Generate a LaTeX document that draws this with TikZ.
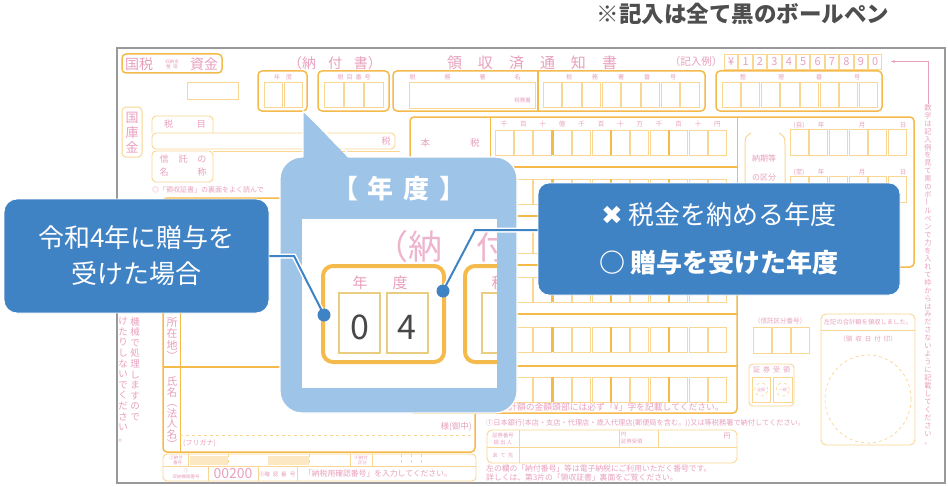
\documentclass[tikz,border=0pt]{standalone}
\usepackage{fontspec}
\setmainfont{Noto Sans CJK JP}
\newfontfamily\dingfont{DejaVu Sans}
\usetikzlibrary{arrows.meta,positioning}

\definecolor{calloutblue}{RGB}{64,131,197}
\definecolor{zoomblue}{RGB}{158,196,231}
\definecolor{formorange}{RGB}{245,186,76}
\definecolor{formcell}{RGB}{249,214,146}
\definecolor{zoomcell}{RGB}{232,205,130}
\definecolor{formpink}{RGB}{233,160,190}
\definecolor{zoompink}{RGB}{238,180,205}
\definecolor{notegray}{RGB}{78,78,78}
\definecolor{digitgray}{RGB}{72,72,72}

\begin{document}
\begin{tikzpicture}
        [
            x=1pt, y=-1pt,
            frame/.style={draw=formorange, line width=1.5pt, rounded corners=4pt},
            cell/.style={draw=formcell, line width=0.9pt},
            formtext/.style={text=formpink, inner sep=0pt, font=\fontsize{#1}{#1}\selectfont},
            formtext/.default=7,
            vstack/.style={text=formpink, inner sep=0pt, align=center, anchor=north},
            callout/.style={fill=calloutblue, draw=white, line width=0.8pt, text=white, align=center, inner sep=0pt},
            link/.style={draw=calloutblue, line width=2pt, preaction={draw=white, line width=5pt}},
            dot/.style={circle, fill=calloutblue, inner sep=0pt, minimum size=13pt},
        ]
            \useasboundingbox (0,0) rectangle (948,487);
            \fill[white] (0,0) rectangle (948,487);
            \draw[black!40, line width=2.6pt] (117,48) rectangle (945,483);

            \node[text=notegray, inner sep=0pt, font=\bfseries\fontsize{22.5}{22.5}\selectfont] (pennote) at (743,14) {※記入は全て黒のボールペン};

            % form: heading row
            \draw[frame] (122,54) rectangle (222,73);
            \node[formtext=14] (kokuzei) at (139,64) {国税};
            \node[formtext, align=center, font=\fontsize{4.5}{5}\selectfont] (shuno) at (172,64) {収納金\\整\ \ 理};
            \node[formtext=14] (shikin) at (204,64) {資金};
            \draw[cell] (187,82) rectangle (238,99);
            \node[formtext=14] (nofusho) at (335,63) {（納\hspace{12pt}付\hspace{12pt}書）};
            \node[formtext=15] (ryoshu) at (532,63) {領\hspace{16pt}収\hspace{16pt}済\hspace{16pt}通\hspace{16pt}知\hspace{16pt}書};
            \node[formtext=10.5] (kinyurei) at (696,62) {（記入例）};
            \foreach \c [count=\i from 0] in {¥,1,2,3,4,5,6,7,8,9,0}
            {
                \draw[cell] (724.5+14.4*\i,54) rectangle ++(13.4,15);
                \node[formtext=11] (ex\i) at (731.2+14.4*\i,61.5) {\c};
            }

            % form: number boxes
            \draw[frame] (258,71) rectangle (307,111);
            \node[formtext=6] (nendo) at (283,77) {年\hspace{6pt}度};
            \foreach \i in {0,1} \draw[cell] (264+20*\i,82) rectangle ++(18,25);
            \draw[frame] (318,71) rectangle (389,111);
            \node[formtext=6] (zeimoku) at (354,77) {税\hspace{3pt}目\hspace{3pt}番\hspace{3pt}号};
            \foreach \i in {0,1,2} \draw[cell] (324.5+20*\i,82) rectangle ++(18.5,25);
            \draw[frame] (393,71) rectangle (705,111);
            \node[formtext=6] (shomei) at (465,77) {税\hspace{29pt}務\hspace{29pt}署\hspace{29pt}名};
            \draw[cell] (409,82) rectangle (535,108);
            \node[formtext=5.5, anchor=east] (shosuffix) at (531,100) {税務署};
            \draw[formorange, line width=1.2pt] (538,71) -- (538,111);
            \node[formtext=6] (shobango) at (621,77) {税\hspace{20pt}務\hspace{20pt}署\hspace{20pt}番\hspace{20pt}号};
            \foreach \i in {0,...,7} \draw[cell] (543+19.7*\i,82) rectangle ++(18.3,25);
            \draw[frame] (716,71) rectangle (882,111);
            \node[formtext=6] (seiri) at (800,77) {整\hspace{32pt}理\hspace{32pt}番\hspace{32pt}号};
            \foreach \i in {0,...,7} \draw[cell] (722+19.6*\i,82) rectangle ++(18.3,25);

            % form: side note
            \node[vstack, font=\fontsize{7.2}{7.95}\selectfont] (sidenote) at (928,104) {数\\字\\は\\記\\入\\例\\を\\見\\て\\黒\\の\\ボ\\\rotatebox{90}{ー}\\ル\\ペ\\ン\\で\\力\\を\\入\\れ\\て\\枠\\か\\ら\\は\\み\\だ\\さ\\な\\い\\よ\\う\\に\\記\\載\\し\\て\\く\\だ\\さ\\い\\。};
            \coordinate (sidebend) at (sidenote.north |- ex10);
            \coordinate (sidetip) at (891,61.5);
            \draw[formpink, line width=0.7pt, -{Stealth[length=4pt]}] (sidenote.north) -- (sidebend) -- (sidetip);

            % form: left column
            \draw[frame, draw=formcell, line width=1pt] (122,107) rectangle (142,157);
            \node[formtext, align=center, font=\fontsize{13}{15}\selectfont] (kokko) at (132,133) {国\\庫\\金};
            \draw[cell, rounded corners=4pt] (152,133) -- (152,116) -- (213,116) -- (213,133);
            \draw[cell, rounded corners=4pt] (152,133) rectangle (395,149);
            \node[formtext=9] (zeimokulabel) at (185,124) {税\hspace{24pt}目};
            \node[formtext=9] (zeisuffix) at (386,141) {税};
            \draw[cell, rounded corners=4pt] (152,151) rectangle (213,182);
            \draw[cell] (213,151) -- (400,151);
            \node[formtext, align=center, font=\fontsize{9}{13}\selectfont] (shintaku) at (183,166) {信\hspace{10pt}託\hspace{10pt}の\\名\hspace{29pt}称};
            \node[formtext=7, anchor=west] (uramen) at (152,190) {◎「領収証書」の裏面をよく読んで};
            \node[vstack, font=\fontsize{9.5}{10.6}\selectfont] (machine) at (135,317) {機\\械\\で\\処\\理\\し\\ま\\す\\の\\で};
            \node[vstack, font=\fontsize{9.5}{10.6}\selectfont] (nofold) at (123,317) {け\\た\\り\\し\\な\\い\\で\\く\\だ\\さ\\い\\。};

            % form: address and name
            \draw[frame] (163,198) rectangle (475,452);
            \draw[formorange, line width=1pt] (180,198) -- (180,452);
            \draw[formorange, line width=1.2pt] (163,367) -- (475,367);
            \draw[formcell, dashed, line width=0.8pt] (180,435) -- (475,435);
            \node[vstack, font=\fontsize{11}{11.5}\selectfont] (address) at (172,317) {所\\在\\地\\︶};
            \node[vstack, font=\fontsize{10.5}{10.5}\selectfont] (name) at (172,377) {氏\\名\\︵\\法\\人\\名\\︶};
            \node[formtext=7, anchor=west] (furigana) at (183,443) {(フリガナ)};
            \node[formtext=8.5, anchor=east] (sama) at (472,427) {様(御中)};

            % form: payment numbers
            \draw[cell, rounded corners=4pt] (163,454) rectangle (476,481);
            \draw[cell] (163,466) -- (476,466);
            \fill[formcell!55] (190,456) rectangle (228,465);
            \fill[formcell!55] (268,456) rectangle (309,465);
            \foreach \x in {188,350,372} \draw[cell] (\x,454) -- (\x,466);
            \foreach \x in {228,309,401,411,421} \draw[cell, dashed] (\x,454) -- (\x,466);
            \foreach \x in {208,258,297} \draw[cell] (\x,466) -- (\x,481);
            \node[formtext, align=center, font=\fontsize{4.5}{5}\selectfont] (nofubango) at (176,460) {②納付\\\ \ \ 番号};
            \node[formtext, align=center, font=\fontsize{4.5}{5}\selectfont] (nofukubun) at (361,460) {④納付\\\ \ \ 区分};
            \node[formtext, align=center, font=\fontsize{4.5}{5.5}\selectfont] (kikan) at (186,474) {①\\収納機関番号};
            \node[formtext=14] (kikanno) at (233,474) {00200};
            \node[formtext=5.5] (kakunin) at (277,474) {③確\hspace{3pt}認\hspace{3pt}番\hspace{3pt}号};
            \node[formtext=7.8] (nyuryoku) at (378,474) {「納税用確認番号」を入力してください。};

            % form: amounts
            \draw[frame] (410,367) -- (410,117) -- (914,117) -- (914,267) -- (737,267) -- (737,413) -- (410,413) -- cycle;
            \draw[formorange, line width=1pt] (490,117) -- (490,413);
            \draw[formorange, line width=1pt] (737,117) -- (737,267);
            \foreach \s in {167,216,265,314,366} \draw[formorange, line width=1.1pt] (410,\s) -- (737,\s);
            \foreach \h [count=\i from 0] in {千,百,十,億,千,百,十,万,千,百,十,円}
                \node[formtext=6.5] (unit\i) at (504+19.4*\i,124) {\h};
            \foreach \r in {130,179,228,277,327,377}
            {
                \foreach \i in {0,...,11} \draw[cell] (495+19.4*\i,\r) rectangle ++(18,25);
                \foreach \i in {3,6,9} \draw[formorange, line width=2.2pt] (494.2+19.4*\i,\r) -- ++(0,25);
            }
            \node[formtext=9.5] (honzei) at (450,143) {本\hspace{40pt}税};
            \node[formtext=8.8, anchor=east] (yenmark) at (724,407) {合計額の金額頭部には必ず「¥」字を記載してください。};

            % form: due dates
            \draw[formcell, line width=1pt] (751,133) .. controls (745,137) .. (745,147) -- (745,250);
            \draw[formcell, line width=1pt] (779,133) .. controls (785,137) .. (785,147) -- (785,250);
            \node[formtext, align=center, font=\fontsize{8}{19}\selectfont] (noki) at (764,168) {納期等\\の区分};
            \foreach \r/\t in {125/自,172/至}
            {
                \node[formtext=6.5] (per\r) at (799,\r) {(\t)};
                \node[formtext=6.5] (yr\r) at (821,\r) {年};
                \node[formtext=6.5] (mo\r) at (862,\r) {月};
                \node[formtext=6.5] (dy\r) at (903,\r) {日};
                \foreach \i in {0,...,5} \draw[cell] (790+19.7*\i,\r+4) rectangle ++(18,26);
            }

            % form: right blocks
            \node[formtext=6.5] (shintakukubun) at (780,321) {（信託区分番号）};
            \foreach \i in {0,1,2} \draw[cell] (753+19.3*\i,327) rectangle ++(18,26);
            \draw[cell, rounded corners=4pt] (749,364) rectangle (794,406);
            \node[formtext=7] (shoken) at (771.5,370) {証\hspace{3pt}券\hspace{3pt}受\hspace{3pt}領};
            \foreach \i/\t in {0/全部,1/一部}
            {
                \draw[cell] (752+21.5*\i,377) rectangle ++(18.5,25);
                \draw[formcell, dashed, line width=0.6pt] (761.2+21.5*\i,389.5) circle (6.5pt);
                \node[formtext=4.2] (part\i) at (761.2+21.5*\i,389.5) {\t};
            }
            \draw[cell, rounded corners=5pt] (821,314) rectangle (915,445);
            \draw[cell] (821,330) -- (915,330);
            \node[formtext=6.3] (ryoshuzumi) at (868,322) {左記の合計額を領収しました。};
            \node[formtext=6.5] (hizukein) at (868,339) {（領\hspace{3pt}収\hspace{3pt}日\hspace{3pt}付\hspace{3pt}印）};
            \draw[formcell, dashed, line width=0.7pt] (868,399) ellipse [x radius=43pt, y radius=44pt];

            % form: bottom notes
            \node[formtext=7.2, anchor=west] (nichigin) at (486,423) {①日本銀行(本店・支店・代理店・歳入代理店(郵便局を含む。))又は等税務署で納付してください。};
            \draw[cell, rounded corners=5pt] (487,430) rectangle (737,463);
            \draw[cell] (487,447) -- (737,447);
            \draw[cell] (519,430) -- (519,463);
            \draw[cell] (619,430) -- (619,447);
            \draw[cell] (658,430) -- (658,447);
            \node[formtext, align=center, font=\fontsize{5.3}{7}\selectfont] (furidashi) at (503,438.5) {証券番号\\振\ 出\ 人};
            \node[formtext=5.3] (atesaki) at (503,455) {あ\ \ て\ \ 先};
            \node[formtext, align=left, anchor=west, font=\fontsize{5.3}{7}\selectfont] (shokenjuryo) at (621,438.5) {円\\証券受領};
            \node[formtext=7] (yen) at (727,436) {円};
            \node[formtext=7.8, anchor=west] (denshi) at (486,469) {左の欄の「納付番号」等は電子納税にご利用いただく番号です。};
            \node[formtext=7.8, anchor=west] (shosai) at (486,478) {詳しくは、第3片の「領収証書」裏面をご覧ください。};

            % zoomed year box
            \node[fill=zoomblue, draw=white, line width=1.2pt, rounded corners=22pt, minimum width=237pt, minimum height=256pt] (zoombox) at (398.5,285) {};
            \fill[zoomblue] (303,162) -- (303,111) -- (352,162) -- cycle;
            \draw[white, line width=1.2pt] (303,157) -- (303,111) -- (352,157);
            \node[text=white, inner sep=0pt, font=\bfseries\fontsize{26}{26}\selectfont] (zoomtitle) at (399,189) {【\hspace{10pt}年\hspace{10pt}度\hspace{10pt}】};
            \fill[white] (302,219) rectangle (497,388);
            \begin{scope}
                \clip (302,219) rectangle (497,388);
                \node[text=zoompink, inner sep=0pt, anchor=west, font=\fontsize{34}{34}\selectfont] (bignofu) at (374,247) {（納};
                \node[text=zoompink, inner sep=0pt, font=\fontsize{34}{34}\selectfont] (bigtsuki) at (493,247) {付};
                \draw[formorange, line width=4pt, rounded corners=10pt] (323,266) rectangle (444,362);
                \draw[zoomcell, line width=2pt] (339,293) rectangle (380,353);
                \draw[zoomcell, line width=2pt] (387,293) rectangle (428,353);
                \node[formtext=15] (bignen) at (360,283) {年};
                \node[formtext=15] (bigdo) at (400,283) {度};
                \node[text=digitgray, inner sep=0pt, font=\fontsize{34}{34}\selectfont] (digit0) at (360,327.5) {0};
                \node[text=digitgray, inner sep=0pt, font=\fontsize{34}{34}\selectfont] (digit4) at (407,327.5) {4};
                \draw[formorange, line width=4pt, rounded corners=10pt] (465,266) rectangle (545,362);
                \draw[zoomcell, line width=2pt] (482,293) rectangle (530,353);
                \node[formtext=15] (bigzei) at (499,283) {税};
            \end{scope}

            % callouts
            \node[callout, rounded corners=13pt, minimum width=265pt, minimum height=114pt, font=\fontsize{26}{36}\selectfont] (gift) at (136.5,256) {令和4年に贈与を\\受けた場合};
            \node[callout, rounded corners=11pt, minimum width=362pt, minimum height=112pt, font=\fontsize{26}{48}\selectfont] (yearnote) at (719,239) {{\dingfont ✖}\ 税金を納める年度\\{\bfseries ○\ 贈与を受けた年度}};

            \coordinate (giftbend) at (294,256);
            \coordinate (notebend) at (475,230);
            \coordinate (pinL) at (324,315);
            \coordinate (pinR) at (443,291);
            \draw[link] (gift.east) -- (giftbend) -- (pinL);
            \draw[link] (pinR) -- (notebend) -- (notebend -| yearnote.west);
            \node[dot] (dotL) at (pinL) {};
            \node[dot] (dotR) at (pinR) {};
        \end{tikzpicture}
\end{document}
